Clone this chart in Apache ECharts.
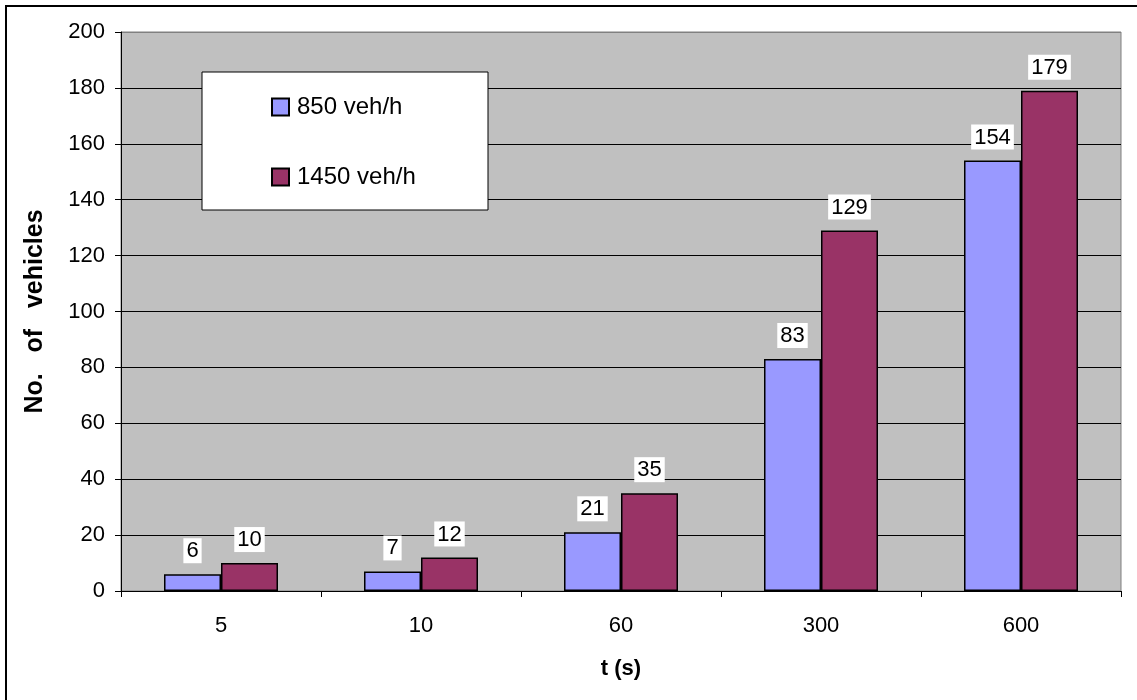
<!DOCTYPE html>
<html>
<head>
<meta charset="utf-8">
<script src="https://cdn.jsdelivr.net/npm/echarts@6/dist/echarts.min.js"></script>
<style>
  html, body { margin: 0; padding: 0; background: #fff; }
  #main { width: 1137px; height: 700px; }
</style>
</head>
<body>
<div id="main"></div>
<script>
var categories = ['5', '10', '60', '300', '600'];
var seriesNames = ['850 veh/h', '1450 veh/h'];
var low = [6, 7, 21, 83, 154];
var high = [10, 12, 35, 129, 179];
var yTicks = { min: 0, max: 200, interval: 20 };

var font = 'Liberation Sans, Arial, sans-serif';
var chart = echarts.init(document.getElementById('main'));

// split line colours: black everywhere, grey on the top edge
var splitColors = [];
for (var i = 0; i <= 10; i++) splitColors.push(i === 10 ? '#808080' : '#000');

var labelStyle = {
    show: true,
    position: 'top',
    distance: 11,
    color: '#000',
    fontSize: 22,
    fontFamily: font,
    backgroundColor: '#fff',
    padding: [2, 3, 1, 3]
};

var option = {
    animation: false,
    backgroundColor: '#fff',
    textStyle: { fontFamily: font },
    grid: {
        left: 121,
        right: 16,
        top: 32,
        bottom: 109,
        show: true,
        backgroundColor: '#c0c0c0',
        borderColor: '#808080',
        borderWidth: 1
    },
    graphic: [
        {
            type: 'rect',
            z: 100,
            shape: { x: 202, y: 72, width: 286, height: 138 },
            style: { fill: '#fff', stroke: '#000', lineWidth: 1 }
        },
        {
            type: 'polyline',
            z: 100,
            shape: { points: [[6, 700], [6, 6], [1137, 6]] },
            style: { stroke: '#000', lineWidth: 2, fill: null }
        }
    ],
    legend: {
        z: 110,
        orient: 'vertical',
        left: 271,
        top: 95,
        padding: 0,
        itemWidth: 17,
        itemHeight: 17,
        itemGap: 46,
        icon: 'rect',
        textStyle: { fontSize: 24, color: '#000', fontFamily: font, padding: [0, 0, 0, 3] },
        data: seriesNames
    },
    xAxis: {
        type: 'category',
        data: categories,
        name: 't (s)',
        nameLocation: 'middle',
        nameGap: 67,
        nameTextStyle: { fontSize: 22, fontWeight: 'bold', color: '#000', fontFamily: font },
        axisLine: { lineStyle: { color: '#000', width: 1 } },
        axisTick: { show: true, length: 6, lineStyle: { color: '#000' } },
        axisLabel: { fontSize: 22, color: '#000', margin: 24, fontFamily: font }
    },
    yAxis: {
        type: 'value',
        min: yTicks.min,
        max: yTicks.max,
        interval: yTicks.interval,
        name: 'No.   of   vehicles',
        nameLocation: 'middle',
        nameGap: 73,
        nameTextStyle: { fontSize: 25, fontWeight: 'bold', color: '#000', fontFamily: font },
        axisLine: { show: true, lineStyle: { color: '#000', width: 1 } },
        axisTick: { show: true, length: 6, lineStyle: { color: '#000' } },
        axisLabel: { fontSize: 22, color: '#000', margin: 16, fontFamily: font },
        splitLine: { show: true, lineStyle: { color: splitColors, width: 1 } }
    },
    series: [
        {
            name: seriesNames[0],
            type: 'bar',
            data: low,
            barGap: '0%',
            barCategoryGap: '43%',
            itemStyle: { color: '#9999ff', borderColor: '#000', borderWidth: 1.5 },
            label: labelStyle
        },
        {
            name: seriesNames[1],
            type: 'bar',
            data: high,
            barGap: '0%',
            barCategoryGap: '43%',
            itemStyle: { color: '#993366', borderColor: '#000', borderWidth: 1.5 },
            label: labelStyle
        }
    ]
};

chart.setOption(option);
</script>
</body>
</html>
